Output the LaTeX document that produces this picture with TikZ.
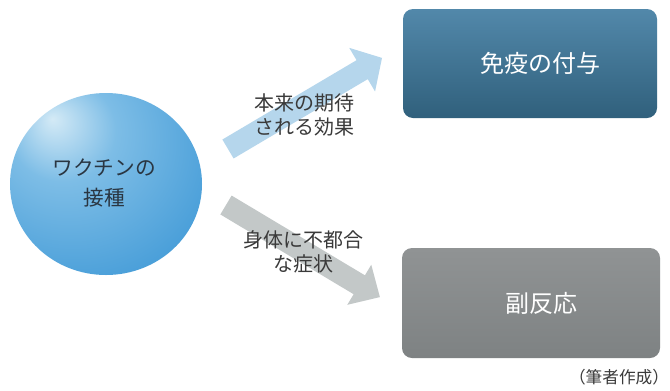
\documentclass[tikz,border=0pt]{standalone}
\usepackage{fontspec}
\newfontfamily\jp{Noto Sans CJK JP}
\usetikzlibrary{shapes.geometric}
\definecolor{ballhi}{HTML}{D4EAF6}
\definecolor{ballmid}{HTML}{7DBDE6}
\definecolor{ballout}{HTML}{3E98D6}
\definecolor{immtop}{HTML}{5288AA}
\definecolor{immbot}{HTML}{30607C}
\definecolor{sidetop}{HTML}{909394}
\definecolor{sidemid}{HTML}{A2A5A6}
\definecolor{sidebot}{HTML}{7E8283}
\definecolor{arrblue}{HTML}{B5D6EC}
\definecolor{arrgray}{HTML}{C3C8C8}
\definecolor{labtext}{HTML}{3A3A3A}
\definecolor{balltext}{HTML}{2A3642}
\pgfdeclareradialshading{ballblue}{\pgfpoint{-14bp}{18bp}}{color(0bp)=(ballhi); color(14bp)=(ballmid); color(42bp)=(ballout); color(75bp)=(ballout)}
\tikzset{
  px/.style={x=0.75pt,y=-0.75pt},
  outcome/.style={rectangle, rounded corners=7.5pt, draw=none, text=white, font=\jp\fontsize{18pt}{22pt}\selectfont},
  label/.style={align=center, text=labtext, font=\jp\fontsize{15pt}{18pt}\selectfont}
}
\begin{document}
\begin{tikzpicture}[px]
\useasboundingbox[fill=white] (0,0) rectangle (670,390);
% circle
\node (vac) [ellipse, shading=ballblue, minimum width=144pt, minimum height=136.5pt, inner sep=0pt] at (106,184) {};
\node (vactext) [align=center, text=balltext, font=\jp\fontsize{15.5pt}{22.5pt}\selectfont] at (104,183) {ワクチンの\\接種};
% arrows
\coordinate (t1) at (228,149);
\coordinate (h1) at (382,58);
\coordinate (t2) at (226,205);
\coordinate (h2) at (380,297);
\begin{scope}[shift={(t1)}, rotate=30.6]
  \fill[arrblue] (0pt,-8.25pt) -- (116.9pt,-8.25pt) -- (116.9pt,-19pt) -- (134.2pt,0pt) -- (116.9pt,19pt) -- (116.9pt,8.25pt) -- (0pt,8.25pt) -- cycle;
\end{scope}
\begin{scope}[shift={(t2)}, rotate=-30.9]
  \fill[arrgray] (0pt,-8.25pt) -- (116.5pt,-8.25pt) -- (116.5pt,-17.5pt) -- (134.5pt,0pt) -- (116.5pt,17.5pt) -- (116.5pt,8.25pt) -- (0pt,8.25pt) -- cycle;
\end{scope}
% labels
\node (lab1) [label] at (304,115) {本来の期待\\される効果};
\node (lab2) [label] at (303,252) {身体に不都合\\な症状};
% outcome boxes
\node (imm) [outcome, top color=immtop, bottom color=immbot, minimum width=190.5pt, minimum height=81.75pt] at (530,63.5) {\hspace*{15pt}免疫の付与};
\node (side) [outcome, top color=sidetop, middle color=sidemid, bottom color=sidebot, minimum width=193.5pt, minimum height=82.5pt] at (531,303) {\hspace*{15pt}副反応};
% caption
\node (cap) [text=labtext, font=\jp\fontsize{12.5pt}{15pt}\selectfont] at (619,377) {（筆者作成）};
\end{tikzpicture}
\end{document}
